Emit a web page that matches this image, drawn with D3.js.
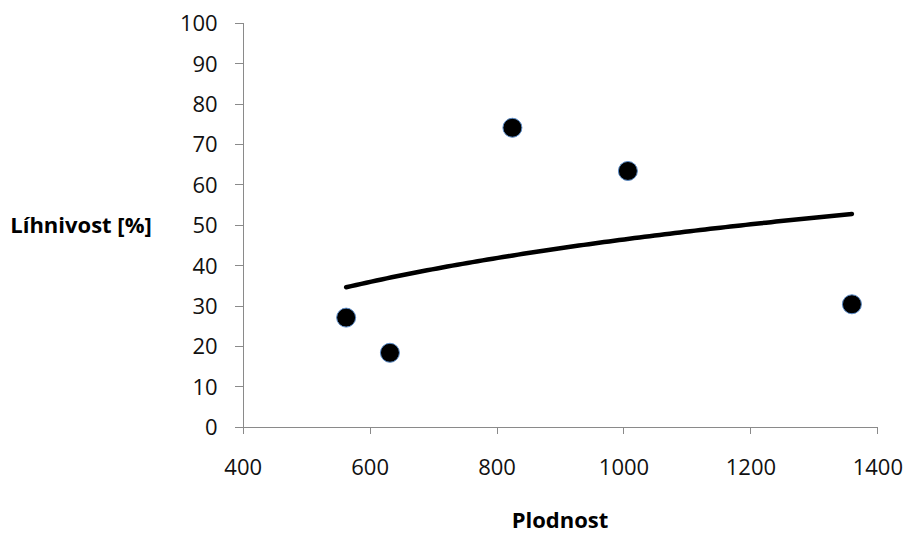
<!DOCTYPE html>
<html>
<head>
<meta charset="utf-8">
<script src="https://cdn.jsdelivr.net/npm/d3@7"></script>
<style>
  html, body { margin: 0; padding: 0; background: #fff; }
  svg { display: block; }
  .tick text { font-family: "Open Sans", sans-serif; font-size: 22px; fill: #111; }
  .axis-title { font-family: "Open Sans", sans-serif; font-size: 22px; font-weight: bold; fill: #000; }
</style>
</head>
<body>
<svg id="chart" width="907" height="533"></svg>
<script>
// Fecundity (eggs per female) and hatching rate (%) for each sample
const fecundity = [563, 632, 825, 1007, 1360];
const hatchRate = [27.0, 18.3, 74.0, 63.3, 30.3];

const xTickValues = [400, 600, 800, 1000, 1200, 1400];
const yTickValues = [0, 10, 20, 30, 40, 50, 60, 70, 80, 90, 100];

const xTitle = "Plodnost";
const yTitle = "Líhnivost [%]";

const svg = d3.select("#chart");

const plot = { left: 242.7, right: 877.3, top: 22.7, bottom: 426.7 };

const x = d3.scaleLinear().domain([400, 1400]).range([plot.left, plot.right]);
const y = d3.scaleLinear().domain([0, 100]).range([plot.bottom, plot.top]);

const axisColor = "#8a8a8a";
const plain = d3.format("d");

// Y axis
const gy = svg.append("g")
  .attr("transform", `translate(${plot.left},0)`)
  .call(d3.axisLeft(y).tickValues(yTickValues).tickFormat(plain)
    .tickSize(8).tickSizeOuter(0).tickPadding(17));
gy.selectAll("path, line").attr("stroke", axisColor).attr("shape-rendering", "crispEdges");
gy.selectAll(".tick text").attr("dy", "0.36em");

// X axis
const gx = svg.append("g")
  .attr("transform", `translate(0,${plot.bottom})`)
  .call(d3.axisBottom(x).tickValues(xTickValues).tickFormat(plain)
    .tickSize(7).tickSizeOuter(0).tickPadding(26));
gx.selectAll("path, line").attr("stroke", axisColor).attr("shape-rendering", "crispEdges");
gx.selectAll(".tick text").attr("dy", "0.71em");
svg.selectAll("g").attr("font-family", null).attr("font-size", null);

// Axis titles
svg.append("text")
  .attr("class", "axis-title")
  .attr("x", 81)
  .attr("y", 225)
  .attr("dy", "0.36em")
  .attr("text-anchor", "middle")
  .text(yTitle);

svg.append("text")
  .attr("class", "axis-title")
  .attr("x", (plot.left + plot.right) / 2)
  .attr("y", 528)
  .attr("text-anchor", "middle")
  .text(xTitle);

// Logarithmic trend line fitted to the points: y = a ln(x) + b
const lx = fecundity.map(Math.log);
const mx = d3.mean(lx), my = d3.mean(hatchRate);
const sxy = d3.sum(lx, (v, i) => (v - mx) * (hatchRate[i] - my));
const sxx = d3.sum(lx, v => (v - mx) * (v - mx));
const a = sxy / sxx, b = my - a * mx;
const [x0, x1] = d3.extent(fecundity);
const trendX = d3.range(0, 101).map(i => x0 + (x1 - x0) * i / 100);

svg.append("path")
  .datum(trendX)
  .attr("fill", "none")
  .attr("stroke", "#000")
  .attr("stroke-width", 4.5)
  .attr("stroke-linecap", "round")
  .attr("d", d3.line().x(d => x(d)).y(d => y(a * Math.log(d) + b)));

// Data points
svg.append("g")
  .selectAll("circle")
  .data(fecundity)
  .join("circle")
  .attr("cx", d => x(d))
  .attr("cy", (d, i) => y(hatchRate[i]))
  .attr("r", 9.5)
  .attr("fill", "#000")
  .attr("stroke", "#5b8cc8")
  .attr("stroke-width", 1);
</script>
</body>
</html>
